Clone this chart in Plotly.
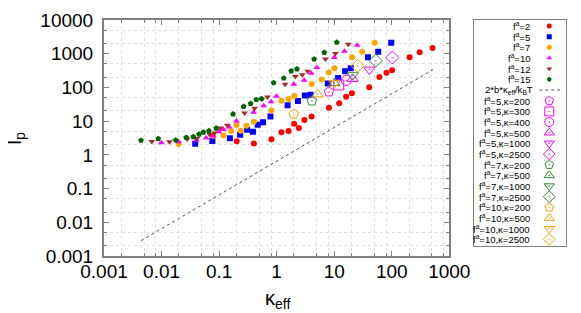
import plotly.graph_objects as go

# ---------------- data ----------------
kappa_f2 = [0.202, 0.402, 0.81, 1.21, 1.61, 2.01, 2.43, 3.03, 4.04, 8.1, 12.2, 16.1, 20.3, 40.6, 61, 81, 101.6, 204, 305, 512]
lp_f2 = [2.55, 2.19, 2.90, 4.65, 5.08, 8.43, 6.3, 10.9, 13.7, 24.8, 34.0, 53.1, 67.3, 102, 203, 272, 326, 789, 1097, 1487]

kappa_f5 = [0.0384, 0.0764, 0.154, 0.232, 0.307, 0.387, 0.469, 0.581, 0.78, 1.55, 2.34, 3.09, 3.89, 7.74, 11.7, 15.5, 19.4, 38.6, 58.2, 98]
lp_f5 = [2.14, 2.59, 3.13, 3.93, 5.51, 4.81, 7.88, 9.2, 13.8, 29.7, 39.7, 57.6, 60.4, 131, 191, 301, 368, 789, 1135, 2125]

kappa_f7 = [0.0198, 0.0785, 0.119, 0.162, 0.2, 0.238, 0.299, 0.402, 0.81, 1.21, 1.62, 2.03, 4.07, 6.08, 8.05, 10.1, 20.4, 30.7, 50.5]
lp_f7 = [2.09, 3.68, 3.75, 5.08, 7.62, 5.15, 7.26, 9.64, 20.7, 40.3, 45.5, 55.7, 127, 172, 277, 373, 789, 1135, 2125]

kappa_f10 = [0.00994, 0.0198, 0.0402, 0.0593, 0.0785, 0.0987, 0.119, 0.15, 0.2, 0.396, 0.596, 0.8, 0.991, 1.99, 3.0, 3.99, 4.99, 10.0, 15.1, 25.1]
lp_f10 = [2.29, 2.45, 2.73, 3.17, 3.63, 4.81, 5.62, 6.74, 10.1, 18.3, 28.7, 37.7, 54.6, 125, 164, 263, 388, 773, 1182, 1796]

kappa_f12 = [0.00678, 0.01375, 0.0279, 0.0409, 0.0686, 0.0831, 0.1045, 0.139, 0.277, 0.415, 0.552, 0.695, 1.40, 2.11, 2.79, 3.47, 7.04, 10.5, 17.6]
lp_f12 = [2.50, 2.45, 2.96, 3.06, 4.01, 4.44, 6.3, 7.5, 17.3, 24.3, 44.6, 52, 125, 210, 238, 301, 698, 1012, 1922]

kappa_f15 = [0.0044, 0.00875, 0.0176, 0.0268, 0.0356, 0.0447, 0.0534, 0.0665, 0.0889, 0.175, 0.267, 0.353, 0.443, 0.546, 0.885, 1.33, 1.79, 2.25, 4.48, 6.73, 11.1]
lp_f15 = [2.68, 3.0, 2.73, 3.28, 3.44, 4.1, 4.69, 5.15, 6.14, 16.2, 27.1, 33.1, 43.4, 46.4, 137, 188, 307, 351, 689, 1083, 2170]

# theory line 2*b*kappa_eff/kBT (end points)
kappa_line = [0.0044, 521]
lp_line = [0.00286, 337]

# single simulations at given f^a and kappa
open_labels = ["f<sup>a</sup>=5,κ=200", "f<sup>a</sup>=5,κ=300", "f<sup>a</sup>=5,κ=400", "f<sup>a</sup>=5,κ=500",
               "f<sup>a</sup>=5,κ=1000", "f<sup>a</sup>=5,κ=2500",
               "f<sup>a</sup>=7,κ=200", "f<sup>a</sup>=7,κ=500", "f<sup>a</sup>=7,κ=1000", "f<sup>a</sup>=7,κ=2500",
               "f<sup>a</sup>=10,κ=200", "f<sup>a</sup>=10,κ=500", "f<sup>a</sup>=10,κ=1000", "f<sup>a</sup>=10,κ=2500"]
open_kappa = [8.1, 12.0, 16.2, 20.9, 40.9, 102.5,
              4.09, 10.1, 20.9, 52.5,
              1.98, 5.14, 10.1, 25.6]
open_lp = [74, 118.6, 162, 179, 337, 773,
           39.7, 134, 230, 623,
           16.2, 62.5, 134, 436]

filled_labels = ["f<sup>a</sup>=2", "f<sup>a</sup>=5", "f<sup>a</sup>=7", "f<sup>a</sup>=10", "f<sup>a</sup>=12", "f<sup>a</sup>=15"]
line_label = "2*b*κ<sub>eff</sub>/k<sub>B</sub>T"

x_tickvals = [0.001, 0.01, 0.1, 1, 10, 100, 1000]
x_ticktext = ["0.001", "0.01", "0.1", "1", "10", "100", "1000"]
y_tickvals = [0.001, 0.01, 0.1, 1, 10, 100, 1000, 10000]
y_ticktext = ["0.001", "0.01", "0.1", "1", "10", "100", "1000", "10000"]

# ---------------- styles ----------------
RED, BLUE, ORANGE, MAG, BROWN, DGREEN, OGREEN = "#ff0000", "#0000ff", "#ffa500", "#ff00ff", "#a52a2a", "#006400", "#2e8b2e"
filled_styles = [("circle", RED, 6), ("square", BLUE, 6), ("circle", ORANGE, 6),
                 ("triangle-up", MAG, 6), ("triangle-down", BROWN, 6), ("pentagon", DGREEN, 6)]
open_styles = [("pentagon-open-dot", MAG), ("square-open-dot", MAG), ("circle-open-dot", MAG),
               ("triangle-up-open-dot", MAG), ("triangle-down-open-dot", MAG), ("diamond-open-dot", MAG),
               ("pentagon-open-dot", OGREEN), ("triangle-up-open-dot", OGREEN),
               ("triangle-down-open-dot", OGREEN), ("diamond-open-dot", OGREEN),
               ("pentagon-open-dot", ORANGE), ("triangle-up-open-dot", ORANGE),
               ("triangle-down-open-dot", ORANGE), ("diamond-open-dot", ORANGE)]
OPEN_SIZE = 10

W, H = 581, 313
L, R, T, B = 96, 2, 9, 65
PW, PH = W - L - R, H - T - B
FONT = "Liberation Sans, Arial, sans-serif"

fig = go.Figure()

filled_data = [(kappa_f2, lp_f2), (kappa_f5, lp_f5), (kappa_f7, lp_f7),
               (kappa_f10, lp_f10), (kappa_f12, lp_f12), (kappa_f15, lp_f15)]
for (kx, ly), (sym, col, sz), lab in zip(filled_data, filled_styles, filled_labels):
    fig.add_trace(go.Scatter(x=kx, y=ly, mode="markers", name=lab,
                             marker=dict(symbol=sym, color=col, size=sz, line=dict(width=0)),
                             xaxis="x", yaxis="y", showlegend=False))

fig.add_trace(go.Scatter(x=kappa_line, y=lp_line, mode="lines", name=line_label,
                         line=dict(color="#555555", width=1, dash="dot"),
                         xaxis="x", yaxis="y", showlegend=False))

for kx, ly, (sym, col), lab in zip(open_kappa, open_lp, open_styles, open_labels):
    fig.add_trace(go.Scatter(x=[kx], y=[ly], mode="markers", name=lab,
                             marker=dict(symbol=sym, color=col, size=OPEN_SIZE, line=dict(width=1, color=col)),
                             xaxis="x", yaxis="y", showlegend=False))

# ---------------- hand-made legend (x2/y2 in pixel units) ----------------
LEG_L, LEG_R, LEG_T, LEG_B = 482.5, 579, 8.5, 237.5
TEXT_X, MARK_X = 543, 561.5
all_labels = filled_labels + [line_label] + open_labels
n_rows = len(all_labels)
row_y = [14.6 + 10.83 * i for i in range(n_rows)]

annotations = []
for i, lab in enumerate(all_labels):
    tx = TEXT_X + (4 if i == 6 else 0)
    annotations.append(dict(x=tx, y=row_y[i], xref="x2", yref="y2", text=lab, showarrow=False,
                            xanchor="right", yanchor="middle",
                            font=dict(family=FONT, size=9.5, color="black")))
for i, (sym, col, sz) in enumerate(filled_styles):
    fig.add_trace(go.Scatter(x=[MARK_X], y=[row_y[i]], mode="markers",
                             marker=dict(symbol=sym, color=col, size=sz - 1, line=dict(width=0)),
                             xaxis="x2", yaxis="y2", showlegend=False, hoverinfo="skip"))
fig.add_trace(go.Scatter(x=[551, 576], y=[row_y[6], row_y[6]], mode="lines",
                         line=dict(color="#555555", width=1, dash="dot"),
                         xaxis="x2", yaxis="y2", showlegend=False, hoverinfo="skip"))
for j, (sym, col) in enumerate(open_styles):
    fig.add_trace(go.Scatter(x=[MARK_X], y=[row_y[7 + j]], mode="markers",
                             marker=dict(symbol=sym, color=col, size=OPEN_SIZE - 1, line=dict(width=1, color=col)),
                             xaxis="x2", yaxis="y2", showlegend=False, hoverinfo="skip"))

# axis titles as annotations
def px_x(p):
    return (p - L) / PW

def px_y(p):
    return (H - B - p) / PH

annotations.append(dict(x=px_x(277), y=px_y(292), xref="paper", yref="paper",
                        text="κ<sub>eff</sub>", showarrow=False, xanchor="center", yanchor="middle",
                        font=dict(family=FONT, size=20, color="black")))
annotations.append(dict(x=px_x(3), y=px_y(129), xref="paper", yref="paper",
                        text="l<sub>p</sub>", showarrow=False, xanchor="center", yanchor="middle",
                        textangle=-90, font=dict(family=FONT, size=20, color="black")))

x_minor = [m * 10 ** e for e in range(-3, 3) for m in (2, 5, 8)]
y_minor = [m * 10 ** e for e in range(-3, 4) for m in (2, 5)]

AX_COL = "#7f7f7f"
GRID_COL = "#e0e0e0"
fig.update_layout(
    width=W, height=H,
    margin=dict(l=L, r=R, t=T, b=B, pad=0),
    paper_bgcolor="white", plot_bgcolor="white",
    showlegend=False,
    font=dict(family=FONT, size=19, color="black"),
    annotations=annotations,
    xaxis=dict(type="log", range=[-3.0001, 3.0001], domain=[0, (457 - L) / PW],
               tickmode="array", tickvals=x_tickvals, ticktext=x_ticktext,
               ticks="inside", ticklen=5, tickwidth=1, tickcolor=AX_COL,
               showline=True, linecolor=AX_COL, linewidth=2, mirror="ticks",
               showgrid=False, zeroline=False, ticklabelstandoff=-3, ticklabeloverflow="allow",
               tickfont=dict(family=FONT, size=19, color="black"),
               minor=dict(tickmode="array", tickvals=x_minor, ticks="inside", ticklen=3,
                          tickcolor=AX_COL, showgrid=True, gridcolor=GRID_COL, griddash="dot", gridwidth=1)),
    yaxis=dict(type="log", range=[-3.0001, 4.0001], domain=[0, 1],
               tickmode="array", tickvals=y_tickvals, ticktext=y_ticktext,
               ticks="inside", ticklen=5, tickwidth=1, tickcolor=AX_COL,
               showline=True, linecolor=AX_COL, linewidth=2, mirror="ticks",
               showgrid=False, zeroline=False, ticklabelstandoff=5, ticklabeloverflow="allow",
               tickfont=dict(family=FONT, size=19, color="black"),
               minor=dict(tickmode="array", tickvals=y_minor, ticks="inside", ticklen=3,
                          tickcolor=AX_COL, showgrid=True, gridcolor=GRID_COL, griddash="dot", gridwidth=1)),
    xaxis2=dict(range=[LEG_L, LEG_R], domain=[px_x(LEG_L), px_x(LEG_R)], anchor="y2",
                showline=True, linecolor=AX_COL, linewidth=1, mirror=True,
                showgrid=False, zeroline=False, showticklabels=False, ticks=""),
    yaxis2=dict(range=[LEG_B, LEG_T], domain=[px_y(LEG_B), min(1.0, px_y(LEG_T))], anchor="x2",
                showline=True, linecolor=AX_COL, linewidth=1, mirror=True,
                showgrid=False, zeroline=False, showticklabels=False, ticks=""),
)

fig.write_html("out.html")
